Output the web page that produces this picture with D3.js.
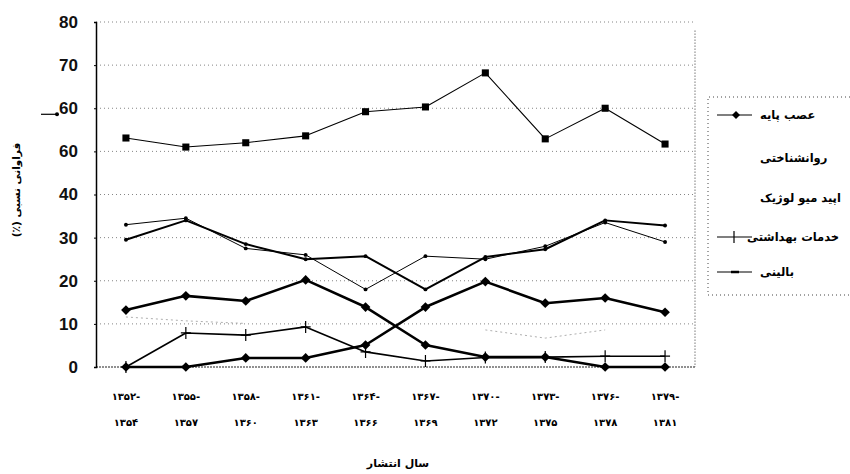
<!DOCTYPE html>
<html>
<head>
<meta charset="utf-8">
<script src="https://cdn.jsdelivr.net/npm/d3@7"></script>
<style>
  body { margin: 0; background: #fff; }
  text { font-family: "DejaVu Sans", sans-serif; }
</style>
</head>
<body>
<script>
// periods (Persian calendar), two-line tick labels
var periodTop = ["۱۳۵۲-", "۱۳۵۵-", "۱۳۵۸-", "۱۳۶۱-", "۱۳۶۴-", "۱۳۶۷-", "۱۳۷۰-", "۱۳۷۳-", "۱۳۷۶-", "۱۳۷۹-"];
var periodBottom = ["۱۳۵۴", "۱۳۵۷", "۱۳۶۰", "۱۳۶۳", "۱۳۶۶", "۱۳۶۹", "۱۳۷۲", "۱۳۷۵", "۱۳۷۸", "۱۳۸۱"];

// y tick values and the labels printed next to them (as in the scan)
var yTicks = [0, 10, 20, 30, 40, 50, 60, 70, 80];
var yTickLabels = ["0", "10", "20", "30", "40", "60", "60", "70", "80"];

// series values (%)
var asabPaye = [53.1, 51.0, 52.0, 53.6, 59.2, 60.3, 68.2, 52.9, 60.0, 51.7];
var ravanshenakhti = [13.2, 16.5, 15.3, 20.2, 13.9, 5.1, 2.3, 2.3, 0, 0];
var epidemiology = [0, 0, 2.1, 2.1, 5.1, 13.9, 19.8, 14.8, 16.0, 12.7];
var khadamat = [0, 7.9, 7.4, 9.3, 3.5, 1.4, 2.2, 2.3, 2.5, 2.5];
var balini = [33.0, 34.5, 27.5, 26.0, 18.0, 25.7, 25.0, 28.0, 33.5, 29.0];
var other = [29.5, 34.0, 28.5, 25.0, 25.7, 18.0, 25.5, 27.3, 34.0, 32.8];
var faint = [11.6, 10.7, 10.1, null, null, null, 8.6, 6.7, 8.6, null];

var legendNames = ["عصب پایه", "روانشناختی", "اپید میو لوژیک", "خدمات بهداشتی", "بالینی"];

var width = 850, height = 474;
var margin = {top: 22, right: 155, bottom: 107, left: 96};

var svg = d3.select("body").append("svg")
    .attr("width", width)
    .attr("height", height);

var xscale = d3.scalePoint()
    .domain(d3.range(periodTop.length))
    .range([margin.left, width - margin.right])
    .padding(0.5);

var yscale = d3.scaleLinear()
    .domain([0, 80])
    .range([height - margin.bottom, margin.top]);

// dotted grid
svg.append("g")
    .selectAll("line")
    .data(yTicks.filter(d => d > 0))
    .join("line")
    .attr("x1", margin.left)
    .attr("x2", width - margin.right)
    .attr("y1", d => yscale(d))
    .attr("y2", d => yscale(d))
    .attr("stroke", "#666")
    .attr("stroke-width", 0.8)
    .attr("stroke-dasharray", "1,3");

// right border + bottom line, dotted
svg.append("line")
    .attr("x1", width - margin.right).attr("x2", width - margin.right)
    .attr("y1", yscale(78)).attr("y2", yscale(0))
    .attr("stroke", "#333").attr("stroke-dasharray", "1,2");
svg.append("line")
    .attr("x1", margin.left).attr("x2", width - margin.right)
    .attr("y1", yscale(0)).attr("y2", yscale(0))
    .attr("stroke", "#222").attr("stroke-width", 1.2).attr("stroke-dasharray", "2,1");

// y-axis
var yAxis = svg.append("g")
    .attr("transform", `translate(${margin.left},0)`)
    .call(d3.axisLeft(yscale).tickValues(yTicks).tickSize(2).tickPadding(16)
        .tickFormat((d, i) => yTickLabels[i]));
yAxis.select(".domain").attr("stroke", "#000").attr("stroke-width", 1.5);
yAxis.selectAll("text")
    .style("font-family", "'Liberation Sans', Arial, sans-serif")
    .attr("font-size", 17)
    .attr("font-weight", "bold")
    .attr("fill", "#111");

// stray mark next to the upper "60"
svg.append("line")
    .attr("x1", 41).attr("x2", 57)
    .attr("y1", yscale(58.6)).attr("y2", yscale(58.6))
    .attr("stroke", "#000").attr("stroke-width", 1.2);
svg.append("circle")
    .attr("cx", 57).attr("cy", yscale(58.6)).attr("r", 2);

// x tick labels
var xl = svg.append("g");
xl.selectAll("text.top")
    .data(periodTop)
    .join("text")
    .attr("class", "top")
    .attr("x", (d, i) => xscale(i))
    .attr("y", 400)
    .attr("text-anchor", "middle")
    .attr("font-size", 10)
    .attr("font-weight", "bold")
    .style("direction", "ltr")
    .text(d => d);
xl.selectAll("text.bot")
    .data(periodBottom)
    .join("text")
    .attr("class", "bot")
    .attr("x", (d, i) => xscale(i))
    .attr("y", 426)
    .attr("text-anchor", "middle")
    .attr("font-size", 10)
    .attr("font-weight", "bold")
    .text(d => d);

// axis titles
svg.append("text")
    .attr("x", 398).attr("y", 467)
    .attr("text-anchor", "middle")
    .attr("font-size", 11)
    .attr("font-weight", "bold")
    .text("سال انتشار");
svg.append("text")
    .attr("transform", "translate(20,190) rotate(-90)")
    .attr("text-anchor", "middle")
    .style("direction", "rtl")
    .attr("font-size", 10.5)
    .attr("font-weight", "bold")
    .text("فراوانی نسبی (٪)");

var line = d3.line()
    .defined(d => d != null)
    .x((d, i) => xscale(i))
    .y(d => yscale(d));

var plusPath = "M-5,0H5M0,-6V6";

function drawSeries(values, opts) {
    svg.append("path")
        .datum(values)
        .attr("fill", "none")
        .attr("stroke", opts.color || "#000")
        .attr("stroke-width", opts.width)
        .attr("stroke-dasharray", opts.dash || null)
        .attr("stroke-linejoin", "round")
        .attr("d", line);
    if (!opts.symbol) return;
    svg.append("g")
        .selectAll("path")
        .data(values.map((v, i) => [i, v]).filter(d => d[1] != null))
        .join("path")
        .attr("transform", d => `translate(${xscale(d[0])},${yscale(d[1])})`)
        .attr("d", opts.symbol == "plus" ? plusPath : d3.symbol().type(opts.symbol).size(opts.size))
        .attr("fill", opts.symbol == "plus" ? "none" : "#000")
        .attr("stroke", opts.symbol == "plus" ? "#000" : "none")
        .attr("stroke-width", 1.2);
}

drawSeries(faint, {width: 0.8, color: "#999", dash: "2,3"});
drawSeries(balini, {width: 1, symbol: d3.symbolCircle, size: 12});
drawSeries(other, {width: 2, symbol: d3.symbolCircle, size: 12});
drawSeries(khadamat, {width: 1.6, symbol: "plus"});
drawSeries(epidemiology, {width: 2.6, symbol: d3.symbolDiamond2, size: 60});
drawSeries(ravanshenakhti, {width: 2.6, symbol: d3.symbolDiamond2, size: 60});
drawSeries(asabPaye, {width: 1.1, symbol: d3.symbolSquare, size: 50});

// legend
var lg = svg.append("g");
lg.append("path")
    .attr("d", "M850,97 H708 V295 H850")
    .attr("fill", "none")
    .attr("stroke", "#444")
    .attr("stroke-dasharray", "1,3");

var legendY = [115, 158, 198, 237, 272];
var legendX = [760, 760, 760, 747, 760];
var legendMarks = ["diamond", null, null, "plus", "dash"];

lg.selectAll("text")
    .data(legendNames)
    .join("text")
    .attr("x", (d, i) => legendX[i])
    .attr("y", (d, i) => legendY[i] + 4)
    .attr("text-anchor", "start")
    .style("direction", "ltr")
    .attr("font-size", 11.5)
    .attr("font-weight", "bold")
    .text(d => d);

legendNames.forEach(function(name, i) {
    var m = legendMarks[i];
    if (!m) return;
    var y = legendY[i];
    lg.append("line")
        .attr("x1", 717).attr("x2", 752)
        .attr("y1", y).attr("y2", y)
        .attr("stroke", "#000").attr("stroke-width", 1.2);
    if (m == "plus") {
        lg.append("line").attr("x1", 734).attr("x2", 734)
            .attr("y1", y - 6).attr("y2", y + 6)
            .attr("stroke", "#000").attr("stroke-width", 1.2);
    } else if (m == "dash") {
        lg.append("line").attr("x1", 731).attr("x2", 739)
            .attr("y1", y).attr("y2", y)
            .attr("stroke", "#000").attr("stroke-width", 2.5);
    } else {
        lg.append("path")
            .attr("transform", `translate(736,${y})`)
            .attr("d", d3.symbol().type(d3.symbolDiamond2).size(40));
    }
});
</script>
</body>
</html>
